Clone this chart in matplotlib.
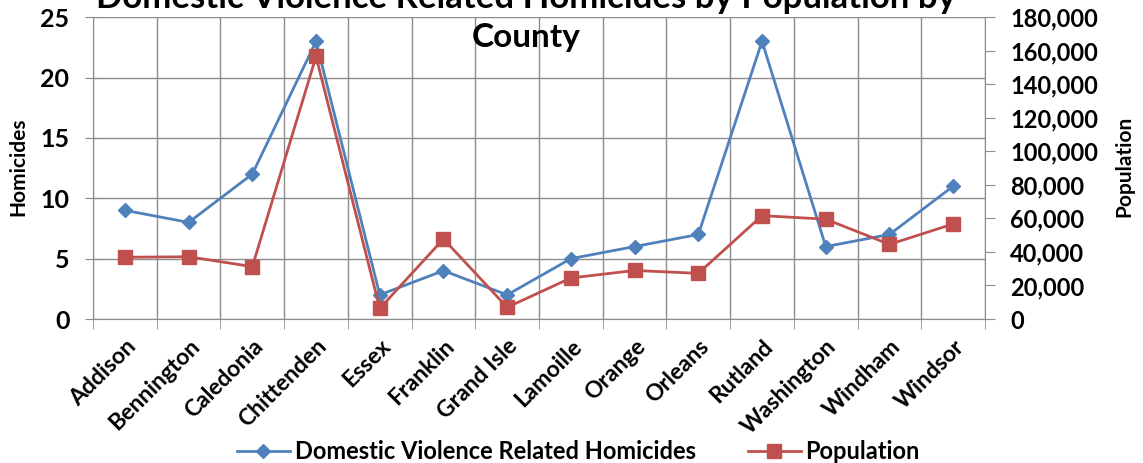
import numpy as np
import matplotlib
matplotlib.use('Agg')
import matplotlib.pyplot as plt
from matplotlib.ticker import FuncFormatter, MultipleLocator

plt.rcParams['font.family'] = ['Lato', 'DejaVu Sans']
plt.rcParams['font.weight'] = 'bold'

counties = ['Addison', 'Bennington', 'Caledonia', 'Chittenden', 'Essex', 'Franklin',
            'Grand Isle', 'Lamoille', 'Orange', 'Orleans', 'Rutland', 'Washington',
            'Windham', 'Windsor']
homicides = [9, 8, 12, 23, 2, 4, 2, 5, 6, 7, 23, 6, 7, 11]
population = [36821, 37125, 31227, 156545, 6306, 47746, 6970, 24475, 28936, 27231,
              61642, 59534, 44513, 56670]

blue = '#4F81BD'
red = '#C0504D'
grid_c = '#8C8C8C'

fig = plt.figure(figsize=(11.43, 4.63), dpi=100)
ax = fig.add_axes([0.0814, 0.311, 0.7804, 0.652])
ax2 = ax.twinx()

x = np.arange(len(counties))
l1, = ax.plot(x, homicides, color=blue, lw=2, marker='D', ms=7,
              label='Domestic Violence Related Homicides', zorder=3)
l2, = ax2.plot(x, population, color=red, lw=2, marker='s', ms=9.5,
               label='Population', zorder=3)

ax.set_xlim(-0.5, len(counties) - 0.5)
ax.set_ylim(0, 25)
ax.yaxis.set_major_locator(MultipleLocator(5))
ax2.set_ylim(0, 180000)
ax2.yaxis.set_major_locator(MultipleLocator(20000))
ax2.yaxis.set_major_formatter(FuncFormatter(lambda v, p: f'{int(v):,}'))

# category labels at centres, gridlines/ticks at boundaries
ax.set_xticks(x)
ax.set_xticklabels(counties, rotation=45, ha='right', rotation_mode='anchor',
                   fontsize=16.5, fontweight='bold')
ax.set_xticks(np.arange(-0.5, len(counties)), minor=True)
ax.tick_params(axis='x', which='major', length=0, pad=12)
ax.tick_params(axis='x', which='minor', length=7, color=grid_c, direction='out')
ax.grid(True, axis='x', which='minor', color=grid_c, lw=1)
ax.grid(True, axis='y', which='major', color=grid_c, lw=1)
ax.set_axisbelow(True)

ax.tick_params(axis='y', length=12, color=grid_c, direction='inout', labelsize=18, pad=11)
ax2.tick_params(axis='y', length=7, color=grid_c, labelsize=17, pad=11)

for a in (ax, ax2):
    for s in a.spines.values():
        s.set_visible(False)
ax.spines['left'].set_visible(True)
ax.spines['left'].set_color(grid_c)
ax.spines['bottom'].set_visible(True)
ax.spines['bottom'].set_color(grid_c)
ax2.spines['right'].set_visible(True)
ax2.spines['right'].set_color(grid_c)

fig.text(0.016, 0.64, 'Homicides', rotation=90, ha='center', va='center',
         fontsize=15, fontweight='bold')
fig.text(0.984, 0.64, 'Population', rotation=90, ha='center', va='center',
         fontsize=15, fontweight='bold')

# title, first line runs off the top edge
fig.text(0.46, 1.005, 'Domestic Violence Related Homicides by Population by',
         ha='center', va='center', fontsize=25, fontweight='bold')
fig.text(0.46, 0.918, 'County', ha='center', va='center', fontsize=24, fontweight='bold')

fig.legend([l1, l2], [l1.get_label(), l2.get_label()], loc='center',
           bbox_to_anchor=(0.506, 0.024), ncol=2, frameon=False, fontsize=17,
           handlelength=2.25, handletextpad=0.2, columnspacing=2.2)

fig.savefig('out.png', dpi=100)
